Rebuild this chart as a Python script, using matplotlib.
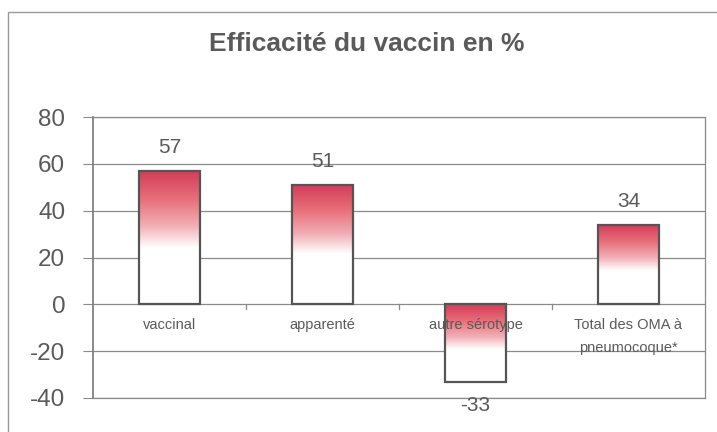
import numpy as np
import matplotlib
matplotlib.use("Agg")
import matplotlib.pyplot as plt
from matplotlib.colors import LinearSegmentedColormap
from matplotlib.patches import Rectangle

plt.rcParams['font.family'] = ['Liberation Sans', 'DejaVu Sans']

# data
categories = ["vaccinal", "apparenté", "autre sérotype", "Total des OMA à\npneumocoque*"]
efficacite = [57, 51, -33, 34]
y_ticks = [80, 60, 40, 20, 0, -20, -40]

grey = "#5a5a5a"
line_grey = "#8a8a8a"

fig = plt.figure(figsize=(7.17, 4.32), dpi=100)
fig.patches.append(Rectangle((8 / 717, -0.01), 1.0, 1 - 12 / 432 + 0.01,
                             transform=fig.transFigure, fill=False,
                             edgecolor="#9a9a9a", linewidth=1.0))
ax = fig.add_axes([93 / 717, (432 - 398) / 432, 612 / 717, 281 / 432])

fig.text(367 / 717, 1 - 44 / 432, "Efficacité du vaccin en %", ha="center", va="center",
         fontsize=19, fontweight="bold", color=grey)

# red -> salmon -> white fade
cmap = LinearSegmentedColormap.from_list(
    "fade", [(0.0, "#ffffff"), (0.42, "#ffffff"), (0.58, "#f2b0b8"),
             (0.78, "#e8707a"), (1.0, "#d23c58")])
grad = np.linspace(0, 1, 256).reshape(-1, 1)

width = 0.4
x = np.arange(len(categories))
for xi, v in zip(x, efficacite):
    lo, hi = min(0, v), max(0, v)
    # gradient always strongest at the top of the bar
    ax.imshow(grad, extent=[xi - width / 2, xi + width / 2, lo, hi],
              origin="lower", aspect="auto", cmap=cmap, zorder=2)
    rect = Rectangle((xi - width / 2, lo), width, hi - lo, fill=False,
                     edgecolor="#555555", linewidth=1.6, zorder=3)
    ax.add_patch(rect)
    if v >= 0:
        ax.text(xi, v + 10, f"{v}", ha="center", va="center", fontsize=15, color=grey)
    else:
        ax.text(xi, v - 10, f"{v}", ha="center", va="center", fontsize=15, color=grey)

for xi, lab in zip(x, categories):
    ax.text(xi, -6, lab, ha="center", va="top", fontsize=10.5, color=grey,
            linespacing=1.75, zorder=4)

ax.set_xlim(-0.5, len(categories) - 0.5)
ax.set_ylim(-40, 80)
ax.set_yticks(y_ticks)
ax.set_yticklabels([str(t) for t in y_ticks], fontsize=17.5, color=grey)
ax.tick_params(axis="y", length=7, color=line_grey, pad=13)
ax.set_xticks([])
for yt in y_ticks:
    ax.axhline(yt, color=line_grey, linewidth=0.9, zorder=1)
# category separators on the zero line
for b in np.arange(0.5, len(categories) - 0.5, 1):
    ax.plot([b, b], [0, -1.8], color=line_grey, linewidth=0.9, zorder=1)
for s in ax.spines.values():
    s.set_color(line_grey)
    s.set_linewidth(0.9)
ax.spines["left"].set_color("#777777")
ax.spines["left"].set_linewidth(1.2)

fig.savefig("out.png", dpi=100)
